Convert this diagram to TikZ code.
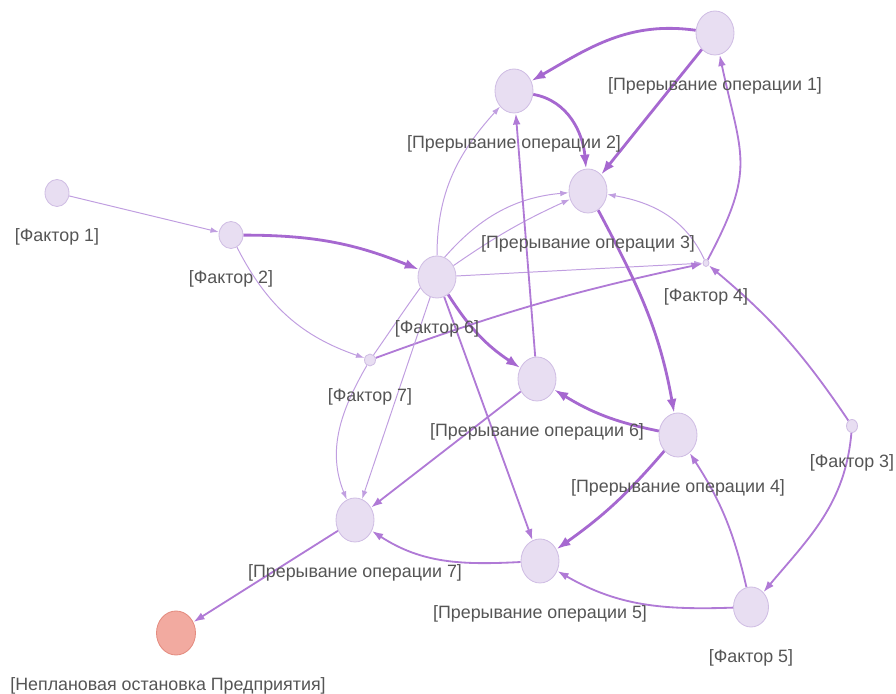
\documentclass[tikz,border=0pt]{standalone}
\usepackage{fontspec}
\setmainfont{Liberation Sans}
\usetikzlibrary{shapes.geometric,arrows.meta}

\definecolor{nodefill}{RGB}{232,222,242}
\definecolor{nodeline}{RGB}{208,190,228}
\definecolor{stopfill}{RGB}{242,170,160}
\definecolor{stopline}{RGB}{228,140,128}
\definecolor{edgedark}{RGB}{166,104,208}
\definecolor{edgemid}{RGB}{176,122,214}
\definecolor{edgelight}{RGB}{192,158,224}
\definecolor{labelgray}{RGB}{85,85,85}

\newlength{\pxu}
\setlength{\pxu}{0.025cm}

\pgfdeclarelayer{bg}
\pgfsetlayers{bg,main}

\tikzset{
    vtx/.style 2 args={ellipse, draw=nodeline, line width=0.6pt, fill=nodefill,
        inner sep=0pt, minimum width=#1*\pxu, minimum height=#2*\pxu},
    stopvtx/.style={vtx={39}{44}, draw=stopline, fill=stopfill},
    lbl/.style={anchor=center, label distance=30*\pxu, text=labelgray,
        font=\fontsize{12.7}{14}\selectfont, inner sep=0pt},
    thinedge/.style={draw=edgelight, line width=0.7pt,
        -{Latex[length=6pt,width=4pt]}},
    midedge/.style={draw=edgemid, line width=1.3pt,
        -{Latex[length=8pt,width=5.5pt]}},
    thickedge/.style={draw=edgedark, line width=2pt,
        -{Latex[length=10pt,width=7pt]}},
}

\begin{document}
\begin{tikzpicture}[x=\pxu, y=\pxu]
    \useasboundingbox (0,0) rectangle (896,-694);

    % factors
    \node[vtx={24}{27}, label={[lbl]below:{[Фактор 1]}}] (f1) at (57,-193) {};
    \node[vtx={24}{27}, label={[lbl]below:{[Фактор 2]}}] (f2) at (231,-235) {};
    \node[vtx={11}{13}, label={[lbl]below:{[Фактор 3]}}] (f3) at (852,-426) {};
    \node[vtx={6}{7},   label={[lbl]below:{[Фактор 4]}}] (f4) at (706,-263) {};
    \node[vtx={35}{40}, label={[lbl]below:{[Фактор 5]}}] (f5) at (751,-607) {};
    \node[vtx={38}{42}, label={[lbl]below:{[Фактор 6]}}] (f6) at (437,-277) {};
    \node[vtx={11}{12}, label={[lbl]below:{[Фактор 7]}}] (f7) at (370,-360) {};

    % interruptions
    \node[vtx={38}{44}, label={[lbl]below:{[Прерывание операции 1]}}] (p1) at (715,-33) {};
    \node[vtx={38}{44}, label={[lbl]below:{[Прерывание операции 2]}}] (p2) at (514,-91) {};
    \node[vtx={38}{44}, label={[lbl]below:{[Прерывание операции 3]}}] (p3) at (588,-191) {};
    \node[vtx={38}{44}, label={[lbl]below:{[Прерывание операции 4]}}] (p4) at (678,-435) {};
    \node[vtx={38}{44}, label={[lbl]below:{[Прерывание операции 5]}}] (p5) at (540,-561) {};
    \node[vtx={38}{44}, label={[lbl]below:{[Прерывание операции 6]}}] (p6) at (537,-379) {};
    \node[vtx={38}{44}, label={[lbl]below:{[Прерывание операции 7]}}] (p7) at (355,-520) {};

    \node[stopvtx, label={[lbl,xshift=-8*\pxu]below:{[Неплановая остановка Предприятия]}}] (np) at (176,-633) {};

    \begin{pgfonlayer}{bg}
        \draw[thinedge]  (f1) -- (f2);
        \draw[thickedge] (f2) to[bend left=11] (f6);
        \draw[thinedge]  (f2) to[bend right=22] (f7);
        \draw[thinedge]  (f6) to[out=90, in=228] (p2);
        \draw[thinedge]  (f7) to[out=55, in=185] (p3);
        \draw[thinedge]  (f6) to[bend left=5] (p3);
        \draw[thinedge]  (f6) -- (f4);
        \draw[midedge]   (f7) to[bend left=4] (f4);
        \draw[midedge]   (f4) to[out=62, in=-78, looseness=1.3] (p1);
        \draw[thinedge]  (f4) to[out=115, in=-10] (p3);
        \draw[midedge]   (f3) to[bend right=8] (f4);
        \draw[midedge]   (f3) to[out=-95, in=50] (f5);
        \draw[midedge]   (f5) to[out=182, in=-30] (p5);
        \draw[midedge]   (f5) to[bend right=10] (p4);
        \draw[thickedge] (p1) to[out=172, in=30] (p2);
        \draw[thickedge] (p1) -- (p3);
        \draw[thickedge] (p2) to[out=-10, in=95] (p3);
        \draw[thickedge] (p3) to[out=-62, in=100] (p4);
        \draw[thickedge] (p4) to[bend left=10] (p6);
        \draw[thickedge] (p4) to[bend left=7] (p5);
        \draw[midedge]   (p6) -- (p2);
        \draw[midedge]   (p6) -- (p7);
        \draw[midedge]   (p5) to[out=183, in=-33] (p7);
        \draw[thickedge] (f6) to[bend right=12] (p6);
        \draw[midedge]   (f6) -- (p5);
        \draw[thinedge]  (f6) -- (p7);
        \draw[thinedge]  (f7) to[out=240, in=112] (p7);
        \draw[midedge]   (p7) -- (np);
    \end{pgfonlayer}
\end{tikzpicture}
\end{document}
